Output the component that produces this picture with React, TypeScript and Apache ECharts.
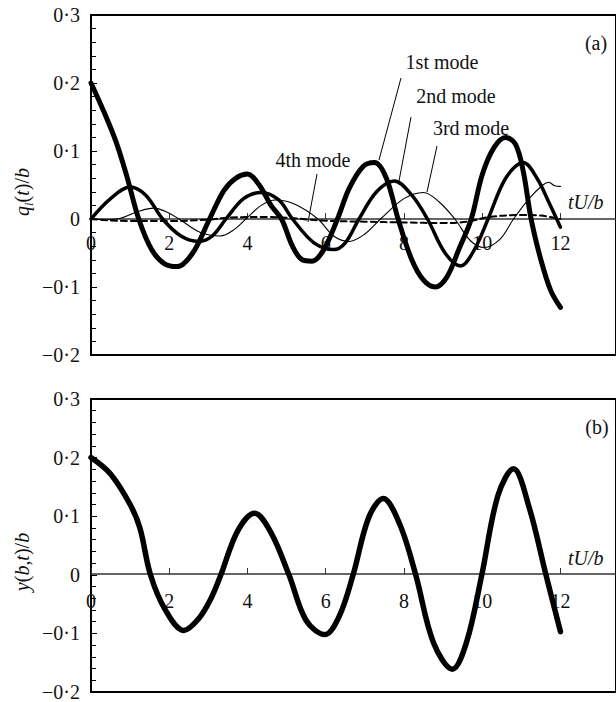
import React, { useEffect, useRef } from "react";
import * as echarts from "echarts";

// ---- data (t = tU/b, value = q_i(t)/b or y(b,t)/b) ----
const xTicks = [0, 2, 4, 6, 8, 10, 12];

const mode1: [number, number][] = [
  [0, 0.2], [0.35, 0.155], [0.65, 0.112], [0.92, 0.062], [1.22, 0], [1.55, -0.045], [1.88, -0.066],
  [2.2, -0.07], [2.6, -0.05], [3.03, 0], [3.4, 0.042], [3.7, 0.06], [4.0, 0.066], [4.3, 0.05],
  [4.6, 0.02], [4.87, 0], [5.15, -0.04], [5.4, -0.06], [5.65, -0.062], [5.95, -0.045], [6.3, 0],
  [6.6, 0.045], [6.95, 0.077], [7.25, 0.083], [7.55, 0.06], [7.85, 0], [8.2, -0.06], [8.5, -0.09],
  [8.8, -0.1], [9.1, -0.085], [9.4, -0.045], [9.72, 0], [10.0, 0.065], [10.3, 0.105], [10.6, 0.12],
  [10.85, 0.11], [11.05, 0.07], [11.25, 0], [11.5, -0.06], [11.75, -0.105], [12, -0.13],
];
const mode2: [number, number][] = [
  [0, 0], [0.5, 0.03], [1.0, 0.047], [1.4, 0.035], [1.83, 0], [2.3, -0.025], [2.75, -0.033],
  [3.1, -0.025], [3.45, 0], [3.9, 0.03], [4.35, 0.039], [4.8, 0.028], [5.15, 0], [5.7, -0.035],
  [6.2, -0.045], [6.5, -0.035], [6.85, 0], [7.3, 0.04], [7.75, 0.056], [8.2, 0.035], [8.6, 0],
  [9.05, -0.05], [9.45, -0.069], [9.8, -0.045], [10.15, 0], [10.6, 0.06], [11.05, 0.083],
  [11.4, 0.06], [11.7, 0.025], [12, -0.012],
];
const mode3: [number, number][] = [
  [0, 0], [0.4, -0.001], [0.75, 0.001], [1.2, 0.011], [1.6, 0.016], [1.95, 0.01], [2.25, 0],
  [2.8, -0.02], [3.3, -0.025], [3.65, -0.016], [3.96, 0], [4.35, 0.02], [4.72, 0.028], [5.2, 0.022],
  [5.8, 0], [6.2, -0.025], [6.6, -0.033], [7.0, -0.022], [7.4, 0], [8.0, 0.03], [8.5, 0.039],
  [8.9, 0.025], [9.3, 0], [9.7, -0.032], [10.05, -0.042], [10.45, -0.03], [10.8, 0], [11.2, 0.03],
  [11.55, 0.05], [11.7, 0.054], [11.85, 0.049], [12, 0.048],
];
const mode4: [number, number][] = [
  [0, 0], [0.5, -0.002], [1, -0.003], [2, -0.003], [3, -0.001], [3.5, 0.002], [4.5, 0.003],
  [5.2, 0.001], [5.8, -0.002], [7, -0.004], [8, -0.005], [9, -0.006], [9.6, -0.004], [10.2, 0.003],
  [11, 0.006], [11.5, 0.005], [12, 0],
];
const tipDisp: [number, number][] = [
  [0, 0.2], [0.5, 0.172], [1.0, 0.12], [1.25, 0.08], [1.52, 0], [1.9, -0.06], [2.37, -0.095],
  [2.75, -0.075], [3.07, -0.04], [3.32, 0], [3.75, 0.075], [4.18, 0.105], [4.6, 0.072], [5.06, 0],
  [5.5, -0.078], [5.98, -0.102], [6.35, -0.07], [6.7, 0], [7.1, 0.098], [7.47, 0.13], [7.9, 0.085],
  [8.3, 0], [8.75, -0.115], [9.24, -0.161], [9.6, -0.115], [9.99, 0], [10.4, 0.135], [10.8, 0.181],
  [11.2, 0.115], [11.63, 0], [12, -0.097],
];
const modeLabels = ["1st mode", "2nd mode", "3rd mode", "4th mode"];

const FONT = '"Liberation Serif", "Times New Roman", serif';
const XMAX = 13.42;
const YMIN = -0.2;
const YMAX = 0.3;
const GRIDS = [
  { top: 15, height: 340, labelMargin: 14 },
  { top: 399, height: 295, labelMargin: 17 },
];

const fmtY = (v: number) => {
  if (Math.abs(v) < 1e-9) return "0";
  const s = Math.abs(v).toFixed(1).replace(".", "·");
  return v < 0 ? "−" + s : s;
};

// shift the x axis from the grid bottom up to the y = 0 level
const zeroOffset = (h: number) => -h * (0 - YMIN) / (YMAX - YMIN);

const xAxisCfg = (gridIndex: number) => ({
  type: "value",
  gridIndex,
  min: 0,
  max: XMAX,
  interval: 2,
  offset: zeroOffset(GRIDS[gridIndex].height),
  axisLine: { onZero: false, lineStyle: { color: "#333", width: 1.5 } },
  axisTick: { inside: true, length: 6, customValues: xTicks, lineStyle: { color: "#333", width: 1 } },
  axisLabel: {
    customValues: xTicks,
    fontSize: 20,
    color: "#111",
    fontFamily: FONT,
    margin: GRIDS[gridIndex].labelMargin,
    formatter: (v: number) => (v <= 12 ? String(v) : ""),
  },
  splitLine: { show: false },
});

const yAxisCfg = (gridIndex: number) => ({
  type: "value",
  gridIndex,
  min: YMIN,
  max: YMAX,
  interval: 0.1,
  axisLine: { onZero: false, lineStyle: { color: "#000", width: 2 } },
  axisTick: { inside: true, length: 6, lineStyle: { color: "#000", width: 1 } },
  minorTick: { show: true, splitNumber: 5, length: 5, lineStyle: { color: "#000", width: 1 } },
  axisLabel: { fontSize: 20, color: "#111", fontFamily: FONT, margin: 11, formatter: fmtY },
  splitLine: { show: false },
});

const txt = (text: string, x: number, y: number, extra: any = {}) => ({
  type: "text",
  x,
  y,
  silent: true,
  style: {
    text,
    fontSize: 20,
    fontFamily: FONT,
    fill: "#111",
    textAlign: "center",
    textVerticalAlign: "middle",
    ...extra,
  },
});

const ln = (x1: number, y1: number, x2: number, y2: number) => ({
  type: "line",
  silent: true,
  shape: { x1, y1, x2, y2 },
  style: { stroke: "#000", lineWidth: 1 },
});

const richStyles = {
  it: { fontStyle: "italic", fontSize: 20, fontFamily: FONT, fill: "#111" },
  n: { fontSize: 20, fontFamily: FONT, fill: "#111" },
  sub: { fontStyle: "italic", fontSize: 13, fontFamily: FONT, fill: "#111", padding: [12, 0, 0, 0] },
};

export default function App() {
  const ref = useRef<HTMLDivElement>(null);
  useEffect(() => {
    if (!ref.current) return;
    const chart = echarts.init(ref.current, null, { renderer: "svg" });
    const line = (data: [number, number][], width: number, idx: number, type: any = "solid") => ({
      type: "line",
      xAxisIndex: idx,
      yAxisIndex: idx,
      data,
      showSymbol: false,
      smooth: 0.35,
      lineStyle: { color: "#000", width, type, cap: "round", join: "round" },
      z: 3,
    });
    chart.setOption({
      animation: false,
      backgroundColor: "#fff",
      grid: GRIDS.map((g) => ({
        left: 91,
        top: g.top,
        right: -4,
        height: g.height,
        show: true,
        borderColor: "#000",
        borderWidth: 2,
        backgroundColor: "transparent",
      })),
      xAxis: [xAxisCfg(0), xAxisCfg(1)],
      yAxis: [yAxisCfg(0), yAxisCfg(1)],
      series: [
        line(mode4, 2, 0, [6, 4]),
        line(mode3, 1.1, 0),
        line(mode2, 3.5, 0),
        line(mode1, 5, 0),
        line(tipDisp, 5.5, 1),
      ],
      graphic: [
        txt("(a)", 596, 43),
        txt("(b)", 597, 427),
        txt("tU/b", 568, 202, { fontStyle: "italic", textAlign: "left" }),
        txt("tU/b", 568, 558, { fontStyle: "italic", textAlign: "left" }),
        txt(modeLabels[0], 442, 62),
        txt(modeLabels[1], 456, 96),
        txt(modeLabels[2], 471, 128),
        txt(modeLabels[3], 313, 160),
        ln(401, 78, 379, 160),
        ln(411, 117, 399, 181),
        ln(437, 146, 427, 192),
        ln(317, 174, 308, 222),
        {
          type: "text",
          x: 22,
          y: 192,
          rotation: Math.PI / 2,
          silent: true,
          style: {
            text: "{it|q}{sub|i}{n|(}{it|t}{n|)/}{it|b}",
            rich: richStyles,
            textAlign: "center",
            textVerticalAlign: "middle",
            fontSize: 20,
            fontFamily: FONT,
          },
        },
        {
          type: "text",
          x: 22,
          y: 562,
          rotation: Math.PI / 2,
          silent: true,
          style: {
            text: "{it|y}{n|(}{it|b}{n|,}{it|t}{n|)/}{it|b}",
            rich: richStyles,
            textAlign: "center",
            textVerticalAlign: "middle",
            fontSize: 20,
            fontFamily: FONT,
          },
        },
      ],
    });
    return () => chart.dispose();
  }, []);
  return (
    <div
      ref={ref}
      style={{ position: "fixed", left: 0, top: 0, width: 616, height: 702, background: "#fff" }}
    />
  );
}
